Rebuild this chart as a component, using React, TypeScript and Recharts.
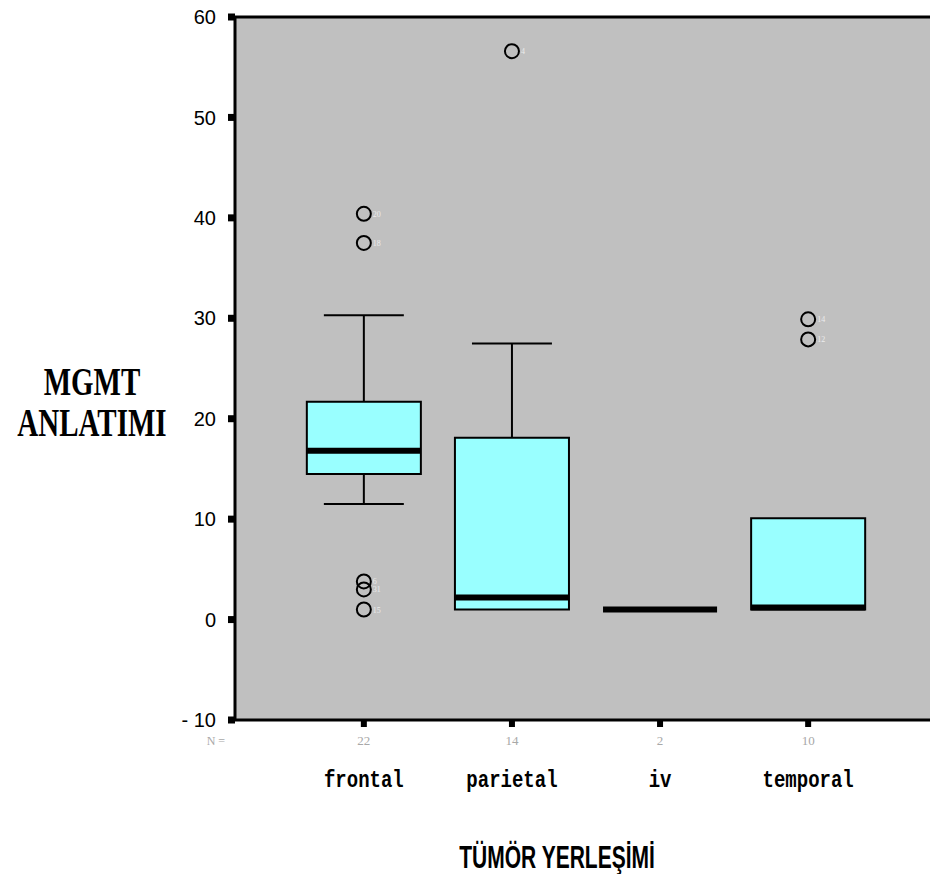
import {
  CartesianGrid,
  ComposedChart,
  ReferenceArea,
  ReferenceLine,
  Scatter,
  XAxis,
  YAxis,
} from "recharts";

const categories = ["frontal", "parietal", "iv", "temporal"];
const counts = [22, 14, 2, 10];
const q1 = [14.5, 1.0, 1.0, 1.0];
const medians = [16.8, 2.2, 1.0, 1.2];
const q3 = [21.7, 18.1, 1.0, 10.1];
const whiskerLow = [11.5, 1.0, 1.0, 1.0];
const whiskerHigh = [30.3, 27.5, 1.0, 10.1];

const outlierCategory = [1, 1, 1, 1, 1, 2, 4, 4];
const outlierValues = [40.4, 37.5, 3.8, 3.0, 1.0, 56.6, 29.9, 27.9];
const outlierIds = ["20", "18", "6", "31", "15", "4", "14", "12"];

const yTicks = [-10, 0, 10, 20, 30, 40, 50, 60];
const yTickLabels = ["- 10", "0", "10", "20", "30", "40", "50", "60"];
const xTicks = [1, 2, 3, 4];

const BOX_HALF = 0.385;
const CAP_HALF = 0.27;

const outliers = outlierValues.map((v, i) => ({
  x: outlierCategory[i],
  y: v,
  id: outlierIds[i],
}));

const OutlierDot = (props: any) => {
  const { cx, cy, payload } = props;
  return (
    <g>
      <circle cx={cx} cy={cy} r={7} fill="none" stroke="#000" strokeWidth={2} />
      <text x={cx + 9} y={cy + 3} fontSize={8} fill="#ececec" fontFamily="Liberation Serif">
        {payload.id}
      </text>
    </g>
  );
};

const CategoryTick = (props: any) => {
  const { x, y, payload, index } = props;
  const i = xTicks.indexOf(payload.value);
  return (
    <g>
      {index === 0 && (
        <text x={x - 148} y={y + 16} textAnchor="middle" fontSize={12} fill="#a8a8a8" fontFamily="Liberation Serif">
          N =
        </text>
      )}
      <text x={x} y={y + 16} textAnchor="middle" fontSize={13} fill="#a8a8a8" fontFamily="Liberation Serif">
        {counts[i]}
      </text>
      <text
        transform={`translate(${x}, ${y + 58}) scale(1, 1.25)`}
        textAnchor="middle"
        fontSize={19}
        fontWeight="bold"
        fill="#000"
        fontFamily="Liberation Mono"
      >
        {categories[i]}
      </text>
    </g>
  );
};

export default function App() {
  return (
    <div
      style={{
        position: "absolute",
        left: 0,
        top: 0,
        width: 930,
        height: 884,
        overflow: "hidden",
        background: "#fff",
      }}
    >
      <ComposedChart
        width={940}
        height={884}
        margin={{ top: 17, right: 3, left: 0, bottom: 0 }}
      >
        <CartesianGrid fill="#c0c0c0" horizontal={false} vertical={false} stroke="none" />
        <XAxis
          type="number"
          dataKey="x"
          domain={[0.13, 4.87]}
          ticks={xTicks}
          interval={0}
          height={164}
          axisLine={{ stroke: "#000", strokeWidth: 3 }}
          tickLine={{ stroke: "#000", strokeWidth: 6 }}
          tickSize={7}
          tick={<CategoryTick />}
        />
        <YAxis
          type="number"
          dataKey="y"
          domain={[-10, 60]}
          ticks={yTicks}
          interval={0}
          width={235}
          axisLine={{ stroke: "#000", strokeWidth: 3 }}
          tickLine={{ stroke: "#000", strokeWidth: 7 }}
          tickSize={7}
          tickMargin={12}
          tickFormatter={(v: number) => yTickLabels[yTicks.indexOf(v)]}
          tick={{ fill: "#000", fontSize: 20, fontFamily: "Liberation Sans" }}
        />
        <ReferenceLine y={60} stroke="#000" strokeWidth={3} />
        {categories.map((c, i) => {
          const x = xTicks[i];
          return (
            <ReferenceArea
              key={"box-" + c}
              x1={x - BOX_HALF}
              x2={x + BOX_HALF}
              y1={q1[i]}
              y2={q3[i]}
              fill="#99ffff"
              fillOpacity={1}
              stroke="#000"
              strokeWidth={2}
            />
          );
        })}
        {categories.map((c, i) => {
          const x = xTicks[i];
          const lines = [];
          if (whiskerHigh[i] > q3[i]) {
            lines.push(
              <ReferenceLine key={c + "-wh"} segment={[{ x, y: q3[i] }, { x, y: whiskerHigh[i] }]} stroke="#000" strokeWidth={2} />,
              <ReferenceLine key={c + "-ch"} segment={[{ x: x - CAP_HALF, y: whiskerHigh[i] }, { x: x + CAP_HALF, y: whiskerHigh[i] }]} stroke="#000" strokeWidth={2} />
            );
          }
          if (whiskerLow[i] < q1[i]) {
            lines.push(
              <ReferenceLine key={c + "-wl"} segment={[{ x, y: whiskerLow[i] }, { x, y: q1[i] }]} stroke="#000" strokeWidth={2} />,
              <ReferenceLine key={c + "-cl"} segment={[{ x: x - CAP_HALF, y: whiskerLow[i] }, { x: x + CAP_HALF, y: whiskerLow[i] }]} stroke="#000" strokeWidth={2} />
            );
          }
          lines.push(
            <ReferenceLine key={c + "-med"} segment={[{ x: x - BOX_HALF, y: medians[i] }, { x: x + BOX_HALF, y: medians[i] }]} stroke="#000" strokeWidth={6} />
          );
          return lines;
        })}
        <Scatter data={outliers} shape={<OutlierDot />} isAnimationActive={false} />
      </ComposedChart>
      <div
        style={{
          position: "absolute",
          left: 2,
          top: 372,
          width: 180,
          height: 60,
          lineHeight: "30px",
          textAlign: "center",
          fontFamily: "Liberation Serif",
          fontWeight: "bold",
          fontSize: 29,
          transform: "scaleY(1.35)",
        }}
      >
        MGMT
        <br />
        ANLATIMI
      </div>
      <div
        style={{
          position: "absolute",
          left: 407,
          top: 845,
          width: 300,
          lineHeight: "24px",
          textAlign: "center",
          fontFamily: "Liberation Sans",
          fontWeight: "bold",
          fontSize: 21,
          transform: "scaleY(1.5)",
        }}
      >
        TÜMÖR YERLEŞİMİ
      </div>
    </div>
  );
}
